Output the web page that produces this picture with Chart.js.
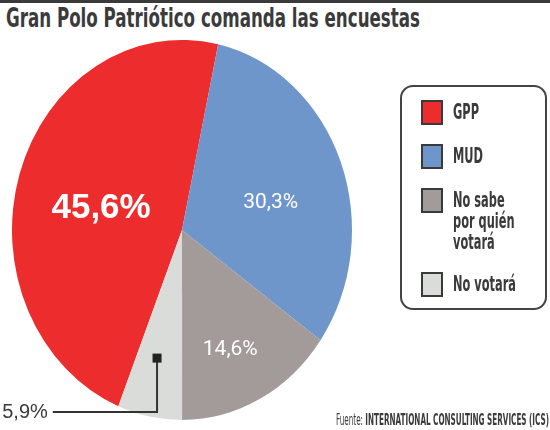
<!DOCTYPE html>
<html>
<head>
<meta charset="utf-8">
<script src="https://cdn.jsdelivr.net/npm/chart.js@4.4.1/dist/chart.umd.min.js"></script>
<style>
  body { margin: 0; background: #fff; width: 550px; height: 430px; overflow: hidden; position: relative;
         font-family: "Liberation Sans Narrow", "DejaVu Sans Condensed", "Liberation Sans", sans-serif; }
  #topbar { position: absolute; left: 0; top: 0; width: 550px; height: 3px; background: #3a3a3a; }
  .fit { position: absolute; white-space: nowrap; transform-origin: 0 0; display: inline-block; }
  #title { left: 6px; top: 6px; font-size: 26px; line-height: 25px; font-weight: bold; color: #3b3b3b; }
  #source { left: 336px; top: 413px; font-size: 15px; line-height: 15px; color: #3b3b3b; }
  #source b { font-weight: bold; }
  #myChart { position: absolute; left: 0; top: 0; }
  #legend { position: absolute; left: 400px; top: 85px; width: 147px; height: 225px; box-sizing: border-box;
            border: 2px solid #444; border-radius: 13px; padding: 13px 0 0 19px; }
  .item { display: flex; align-items: flex-start; margin-bottom: 19px; }
  .box { width: 22px; height: 25px; box-sizing: border-box; border: 2px solid #3a3a3a; flex: none; }
  .txt { margin-left: 10px; font-size: 21px; line-height: 21px; font-weight: bold; color: #3a3a3a; white-space: nowrap;
         transform-origin: 0 0; display: inline-block; padding-top: 2px; }
</style>
</head>
<body>
<div id="topbar"></div>
<div id="title" class="fit">Gran Polo Patriótico comanda las encuestas</div>
<canvas id="myChart" width="550" height="430"></canvas>
<div id="legend"></div>
<div id="source" class="fit">Fuente: <b>INTERNATIONAL CONSULTING SERVICES (ICS)</b></div>
<script>
const categories = ['GPP', 'MUD', 'No sabe por quién votará', 'No votará'];
const legendLines = [['GPP'], ['MUD'], ['No sabe', 'por quién', 'votará'], ['No votará']];
const values = [45.6, 30.3, 14.6, 5.9];
const valueLabels = ['45,6%', '30,3%', '14,6%', '5,9%'];
const colors = ['#ed2d2d', '#6e96ca', '#a39a9a', '#d9dcd9'];

// the printed pie is a bit taller than wide
const stretchY = 190 / 170;

// where each label sits: fraction of radius, and a small angle nudge (deg)
const labelRadius = [0.49, 0.54, 0.69, 0.69];
const labelNudge = [-3.4, 6, 3, 1.3];
const labelFonts = ['bold 35px "Liberation Sans", Roboto, sans-serif',
                    '21px Roboto, "Liberation Sans", sans-serif',
                    '21px Roboto, "Liberation Sans", sans-serif',
                    '20px "Liberation Sans", Roboto, sans-serif'];

function fitText(el, width) {
  el.style.transform = 'none';
  const w = el.getBoundingClientRect().width;
  el.style.transform = 'scaleX(' + (width / w) + ')';
}

// legend
const legend = document.getElementById('legend');
const legendTexts = [];
categories.forEach((c, i) => {
  const item = document.createElement('div');
  item.className = 'item';
  const box = document.createElement('div');
  box.className = 'box';
  box.style.background = colors[i];
  const txt = document.createElement('div');
  txt.className = 'txt';
  txt.innerHTML = legendLines[i].join('<br>');
  item.appendChild(box);
  item.appendChild(txt);
  legend.appendChild(item);
  legendTexts.push(txt);
});
legend.lastChild.style.marginBottom = '0';

fitText(document.getElementById('title'), 414);
fitText(document.getElementById('source'), 213);
let widest = 0;
legendTexts.forEach(t => { widest = Math.max(widest, t.getBoundingClientRect().width); });
legendTexts.forEach(t => { t.style.transform = 'scaleX(' + (63 / widest) + ')'; });

const ovalPlugin = {
  id: 'oval',
  beforeDatasetsDraw(chart) {
    const a = chart.getDatasetMeta(0).data[0];
    const ctx = chart.ctx;
    ctx.save();
    ctx.translate(a.x, a.y);
    ctx.scale(1, stretchY);
    ctx.translate(-a.x, -a.y);
  },
  afterDatasetsDraw(chart) {
    chart.ctx.restore();
  }
};

const labelPlugin = {
  id: 'sliceLabels',
  afterDraw(chart) {
    const ctx = chart.ctx;
    const arcs = chart.getDatasetMeta(0).data;
    arcs.forEach((arc, i) => {
      const mid = (arc.startAngle + arc.endAngle) / 2 + labelNudge[i] * Math.PI / 180;
      const r = arc.outerRadius * labelRadius[i];
      const x = arc.x + Math.cos(mid) * r;
      const y = arc.y + Math.sin(mid) * r * stretchY;
      ctx.save();
      ctx.font = labelFonts[i];
      if (i < 3) {
        ctx.fillStyle = '#fff';
        ctx.textAlign = 'center';
        ctx.textBaseline = 'middle';
        ctx.fillText(valueLabels[i], x, y);
      } else {
        // small slice: marker with a leader line out to the left
        const lineY = arc.y + arc.outerRadius * stretchY * 0.958;
        const lineX = arc.x - arc.outerRadius * 0.76;
        ctx.strokeStyle = '#333';
        ctx.lineWidth = 2;
        ctx.beginPath();
        ctx.moveTo(x, y);
        ctx.lineTo(x, lineY);
        ctx.lineTo(lineX, lineY);
        ctx.stroke();
        ctx.fillStyle = '#222';
        ctx.fillRect(x - 4.5, y - 4.5, 9, 9);
        ctx.fillStyle = '#3a3a3a';
        ctx.textAlign = 'right';
        ctx.textBaseline = 'middle';
        ctx.fillText(valueLabels[i], lineX - 5, lineY);
      }
      ctx.restore();
    });
  }
};

const data = {
  labels: categories,
  datasets: [{
    data: values,
    backgroundColor: colors,
    borderWidth: 0
  }]
};

const config = {
  type: 'pie',
  data: data,
  options: {
    responsive: false,
    animation: false,
    devicePixelRatio: 1,
    rotation: 202,
    layout: { padding: { left: 12, right: 198, top: 60, bottom: 30 } },
    plugins: {
      legend: { display: false },
      tooltip: { enabled: false }
    }
  },
  plugins: [ovalPlugin, labelPlugin]
};

const chart = new Chart(document.getElementById('myChart'), config);
</script>
</body>
</html>
